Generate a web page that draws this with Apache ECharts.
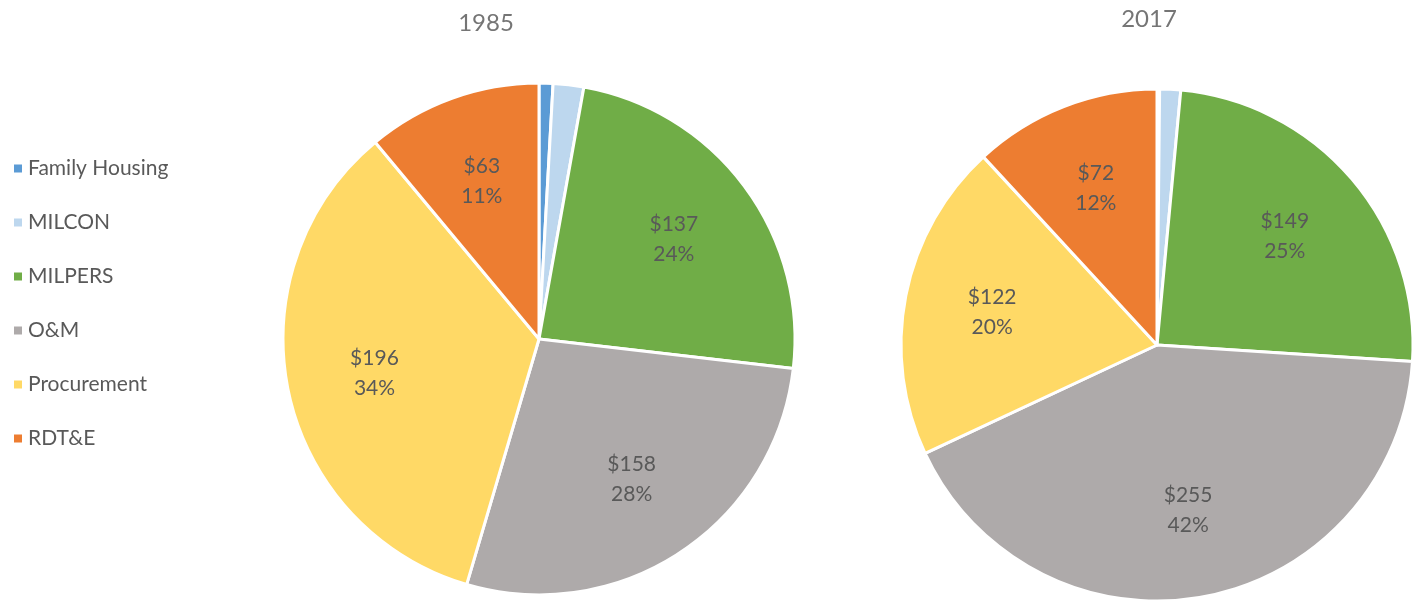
<!DOCTYPE html>
<html>
<head>
<meta charset="utf-8">
<script src="https://cdn.jsdelivr.net/npm/echarts@6/dist/echarts.min.js"></script>
<style>
  html, body { margin: 0; padding: 0; background: #fff; }
  #chart { width: 1424px; height: 601px; }
</style>
</head>
<body>
<div id="chart"></div>
<script>
// budget categories (billions $)
const categories = ['Family Housing', 'MILCON', 'MILPERS', 'O&M', 'Procurement', 'RDT&E'];
const colors = ['#5B9BD5', '#BDD7EE', '#70AD47', '#AEAAAA', '#FFD966', '#ED7D31'];
const values1985 = [5, 11, 137, 158, 196, 63];
const values2017 = [1, 8, 149, 255, 122, 72];
const years = ['1985', '2017'];

const chart = echarts.init(document.getElementById('chart'));
const font = 'Lato, "Open Sans", sans-serif';

function toData(vals) {
    return vals.map((v, i) => ({ name: categories[i], value: v, itemStyle: { color: colors[i] } }));
}

// visible pie, no labels
function pie(vals, center) {
    return {
        type: 'pie',
        center: center,
        radius: 256,
        startAngle: 90,
        clockwise: true,
        animation: false,
        itemStyle: { borderColor: '#fff', borderWidth: 3 },
        label: { show: false },
        labelLine: { show: false },
        emphasis: { disabled: true },
        data: toData(vals)
    };
}

// transparent pie over it, only to put the labels a bit further out
function labels(vals, center) {
    return {
        type: 'pie',
        center: center,
        radius: [0, 330],
        startAngle: 90,
        clockwise: true,
        animation: false,
        silent: true,
        itemStyle: { color: 'rgba(0,0,0,0)', borderWidth: 0 },
        label: {
            show: true,
            position: 'inside',
            color: '#595959',
            fontFamily: font,
            fontSize: 21,
            lineHeight: 30,
            formatter: p => p.percent < 3 ? '' : '$' + p.value + '\n' + Math.round(p.percent) + '%'
        },
        labelLine: { show: false },
        emphasis: { disabled: true },
        data: vals.map((v, i) => ({ name: categories[i], value: v }))
    };
}

chart.setOption({
    backgroundColor: '#fff',
    title: [
        { text: years[0], left: 481, top: 6, textAlign: 'center',
          textStyle: { color: '#757575', fontFamily: font, fontSize: 24, fontWeight: 'normal' } },
        { text: years[1], left: 1144, top: 2, textAlign: 'center',
          textStyle: { color: '#757575', fontFamily: font, fontSize: 24, fontWeight: 'normal' } }
    ],
    legend: {
        orient: 'vertical',
        left: 7,
        top: 153,
        itemWidth: 10,
        itemHeight: 10,
        itemGap: 33,
        icon: 'rect',
        data: categories,
        selectedMode: false,
        textStyle: { color: '#595959', fontFamily: font, fontSize: 21 }
    },
    series: [
        pie(values1985, [539, 339]),
        pie(values2017, [1157, 345]),
        labels(values1985, [539, 339]),
        labels(values2017, [1157, 345])
    ]
});
</script>
</body>
</html>
